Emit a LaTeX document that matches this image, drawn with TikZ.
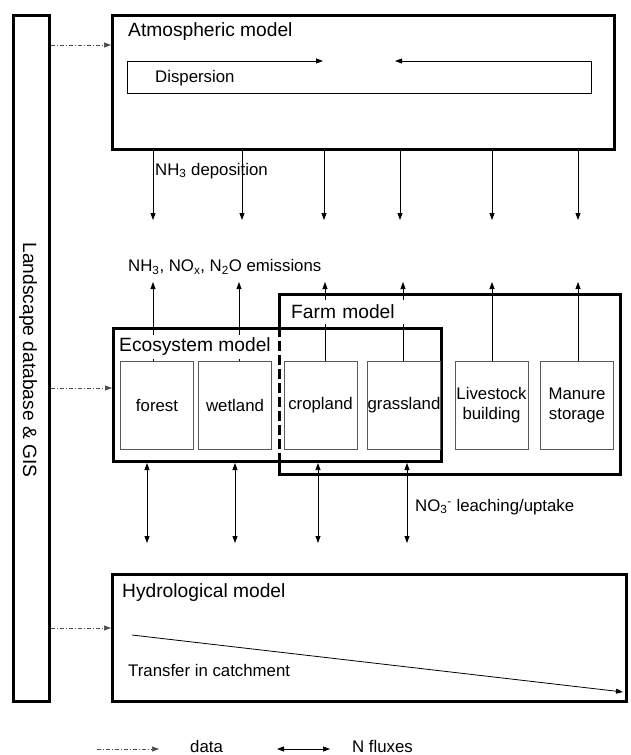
\documentclass[tikz,border=0pt]{standalone}
\usepackage{fontspec}
\setmainfont{Liberation Sans}
\usetikzlibrary{positioning}
\usetikzlibrary{arrows.meta}

\newcommand{\mdlfont}{\fontsize{19.2}{23}\selectfont}
\newcommand{\flxfont}{\fontsize{16.8}{20}\selectfont}

\begin{document}
\begin{tikzpicture}[x = 1pt, y = -1pt,
	model/.style = {draw, line width = 3pt, inner sep = 0pt},
	part/.style = {draw = black!65, line width = 1pt, inner sep = 0pt, minimum width = 73pt, minimum height = 88pt, align = center, font = \flxfont},
	title/.style = {font = \mdlfont, anchor = west, inner sep = 0pt},
	label/.style = {font = \flxfont, anchor = west, inner sep = 0pt},
	flux/.style = {line width = 0.8pt, -{Triangle[length = 7pt, width = 5pt]}},
	bothflux/.style = {line width = 0.8pt, {Triangle[length = 7pt, width = 5pt]}-{Triangle[length = 7pt, width = 5pt]}},
	data/.style = {line width = 0.7pt, black!70, dash pattern = on 4pt off 2pt on 1pt off 2pt, -{Triangle[length = 7pt, width = 5pt]}}]
	\useasboundingbox (0, 0) rectangle (630, 755);

	% models
	\node [model, minimum width = 36pt, minimum height = 686pt] (gis) at (31.5, 358.5) {};
	\node [rotate = -90, font = \mdlfont, inner sep = 0pt] (gistext) at (28, 360) {Landscape database \& GIS};
	\node [model, minimum width = 502pt, minimum height = 134pt] (atm) at (363.5, 82.5) {};
	\node [model, minimum width = 328pt, minimum height = 133pt] (eco) at (277.5, 395) {};
	\node [outer sep = 0pt, minimum width = 341pt, minimum height = 180pt] (farm) at (450, 384.5) {};
	\node [model, minimum width = 514pt, minimum height = 127pt] (hydro) at (369.5, 638) {};
	\draw [line width = 3pt] (eco.north -| farm.west)--(farm.north west)--(farm.north east)--(farm.south east)--(farm.south west)--(eco.south -| farm.west);
	\draw [line width = 3pt, dash pattern = on 10pt off 4pt] (eco.north -| farm.west)--(eco.south -| farm.west);

	% dispersion
	\node [outer sep = 0pt, minimum width = 464pt, minimum height = 32pt] (disp) at (359, 77) {};
	\coordinate (dispR) at (323, 61);
	\coordinate (dispL) at (395, 61);
	\draw [bothflux] (dispR)--(disp.north west)--(disp.south west)--(disp.south east)--(disp.north east)--(dispL);
	\node [label] (disptext) at (155, 78) {Dispersion};
	\node [title] (atmtitle) at (128, 32) {Atmospheric model};

	% deposition
	\foreach \x [count = \i] in {153, 242, 324, 400, 492, 578} {
		\coordinate (dep\i) at (\x, 220);
		\draw [flux] (atm.south -| dep\i)--(dep\i);
	}
	\node [label] (deplabel) at (155, 171) {NH\textsubscript{3} deposition};

	% land uses
	\node [part] (forest) at (157, 405.5) {forest};
	\node [part] (wetland) at (235, 405.5) {wetland};
	\node [part] (cropland) at (320.5, 405.5) {cropland};
	\node [part] (grassland) at (404, 405.5) {grassland};
	\node [part] (livestock) at (491.5, 405.5) {Livestock\\building};
	\node [part] (manure) at (577, 405.5) {Manure\\storage};

	% emissions
	\foreach \n/\x in {forest/153, wetland/239, cropland/325, grassland/403, livestock/492, manure/578} {
		\coordinate (emis\n) at (\x, 282);
		\draw [flux] (\n.north -| emis\n)--(emis\n);
	}
	\node [label] (emislabel) at (128, 267) {NH\textsubscript{3}, NO\textsubscript{x}, N\textsubscript{2}O emissions};
	\node [title, fill = white, inner xsep = 3pt, inner ysep = 3.5pt] (ecotitle) at (116, 347) {Ecosystem model};
	\node [title, fill = white, inner xsep = 3pt, inner ysep = 5pt, text width = 112pt] (farmtitle) at (288, 312) {Farm model};

	% leaching
	\foreach \x [count = \i] in {147, 235, 318, 407} {
		\coordinate (leach\i) at (\x, 543);
		\draw [bothflux] (eco.south -| leach\i)--(leach\i);
	}
	\node [label] (leachlabel) at (415, 507) {NO\textsubscript{3}\textsuperscript{-} leaching/uptake};

	% hydrology
	\node [title] (hydrotitle) at (122, 593) {Hydrological model};
	\coordinate (trfrom) at (132, 635);
	\coordinate (trto) at (623, 692);
	\draw [flux] (trfrom)--(trto);
	\node [label] (trlabel) at (128, 670) {Transfer in catchment};

	% data links
	\coordinate (atmin) at (0, 45);
	\coordinate (ecoin) at (0, 388);
	\coordinate (hydroin) at (0, 628);
	\draw [data] (gis.east |- atmin)--(atm.west |- atmin);
	\draw [data] (gis.east |- ecoin)--(eco.west |- ecoin);
	\draw [data] (gis.east |- hydroin)--(hydro.west |- hydroin);

	% key
	\coordinate (dataA) at (97, 749);
	\coordinate (dataB) at (159, 749);
	\coordinate (fluxA) at (277, 749);
	\coordinate (fluxB) at (330, 749);
	\draw [data] (dataA)--(dataB);
	\draw [bothflux] (fluxA)--(fluxB);
	\node [label] (datakey) at (190, 746) {data};
	\node [label] (fluxkey) at (352, 746) {N fluxes};
\end{tikzpicture}
\end{document}
